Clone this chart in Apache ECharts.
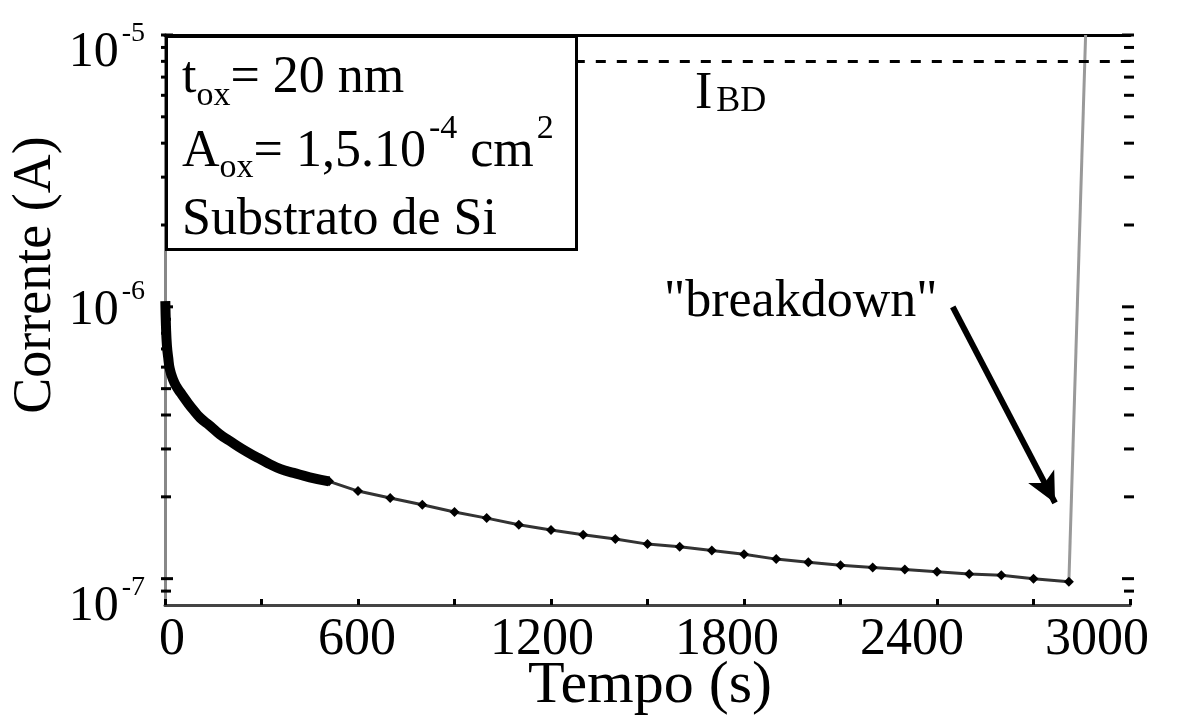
<!DOCTYPE html>
<html>
<head>
<meta charset="utf-8">
<script src="https://cdn.jsdelivr.net/npm/echarts@6/dist/echarts.min.js"></script>
<style>
html,body{margin:0;padding:0;background:#fff;}
#c{width:1181px;height:717px;}
</style>
</head>
<body>
<div id="c"></div>
<script>
// ---- data ----
var timeEarly    = [1, 3, 6, 10, 15, 25, 35, 50, 70, 90, 110, 140, 170, 200, 240, 280, 320, 360, 400, 450, 510];
var currentEarly = [1.05e-6, 8.5e-7, 7.2e-7, 6.5e-7, 5.9e-7, 5.4e-7, 5.1e-7, 4.8e-7, 4.45e-7, 4.15e-7, 3.9e-7, 3.65e-7, 3.4e-7, 3.22e-7, 3.0e-7, 2.82e-7, 2.66e-7, 2.53e-7, 2.45e-7, 2.36e-7, 2.28e-7];
var timeLate     = [510, 600, 700, 800, 900, 1000, 1100, 1200, 1300, 1400, 1500, 1600, 1700, 1800, 1900, 2000, 2100, 2200, 2300, 2400, 2500, 2600, 2700, 2810];
var currentLate  = [2.28e-7, 2.10e-7, 1.98e-7, 1.87e-7, 1.76e-7, 1.67e-7, 1.58e-7, 1.51e-7, 1.45e-7, 1.40e-7, 1.34e-7, 1.31e-7, 1.27e-7, 1.23e-7, 1.18e-7, 1.15e-7, 1.12e-7, 1.10e-7, 1.08e-7, 1.06e-7, 1.04e-7, 1.03e-7, 1.00e-7, 0.975e-7];
var timeBreak    = [2810, 2862];
var currentBreak = [0.975e-7, 1e-5];
var currentBD    = 8e-6;            // I_BD dashed level
var bdLineStartT = 1274;            // dashed line starts at box edge
var arrowFrom    = [2449, 1.0e-6];
var arrowTo      = [2767, 1.9e-7];
var xTicks       = [0, 600, 1200, 1800, 2400, 3000];
var yMin = 8e-8, yMax = 1e-5;
var yMajorTicks  = [1e-7, 1e-6, 1e-5];
var yMinorTicks  = [9e-8, 2e-7, 3e-7, 4e-7, 5e-7, 6e-7, 7e-7, 8e-7, 9e-7, 2e-6, 3e-6, 4e-6, 5e-6, 6e-6, 7e-6, 8e-6, 9e-6];

function zip(a, b){ return a.map(function(v,i){ return [v, b[i]]; }); }

var FONT = '"Liberation Serif", "Times New Roman", "DejaVu Serif", serif';
var chart = echarts.init(document.getElementById('c'), null, {renderer:'canvas'});

var tickData = yMajorTicks.map(function(v){ return [v, 1]; }).concat(yMinorTicks.map(function(v){ return [v, 0]; }));

// label nudges: the reference's printed labels sit slightly off their ticks
var xShift = {0: 7, 600: -1, 1200: -9, 1800: -17, 2400: -25, 3000: -33};
var yShift = {'-7': 24, '-6': 0, '-5': 14};

var xRich = {};
xTicks.forEach(function(v){
  var d = xShift[v] || 0;
  xRich['p' + v] = {fontFamily: FONT, fontSize: 52, color: '#000',
    padding: d >= 0 ? [0, 0, 0, 2*d] : [0, -2*d, 0, 0]};
});
var yRich = {
  b: {fontFamily: FONT, fontSize: 50, lineHeight: 58, verticalAlign: 'bottom', color: '#000'},
  s: {fontFamily: FONT, fontSize: 28, lineHeight: 28, verticalAlign: 'top', color: '#000', padding: [0, 0, 0, 3]}
};
['-7','-5'].forEach(function(e){
  yRich['g' + e.replace('-','m')] = {fontSize: 4, lineHeight: 2 * yShift[e], color: 'rgba(0,0,0,0)'};
});

var option = {
  backgroundColor: '#fff',
  animation: false,
  textStyle: {fontFamily: FONT},
  grid: {left: 165, right: 51, top: 35, bottom: 112, containLabel: false, outerBoundsMode: 'none'},
  xAxis: [{
    type: 'value', min: 0, max: 3000, interval: 600,
    axisLine: {show: true, onZero: false, lineStyle: {color: '#444', width: 3}},
    axisTick: {show: true, inside: true, length: 6, lineStyle: {color: '#000', width: 3}},
    minorTick: {show: true, splitNumber: 2, length: 6, lineStyle: {color: '#000', width: 3}},
    splitLine: {show: false},
    axisLabel: {margin: 9, color: '#000', rich: xRich,
      formatter: function(v){ return xTicks.indexOf(v) >= 0 ? '{p' + v + '|' + v + '}' : ''; }}
  }, {
    type: 'value', min: 0, max: 3000, interval: 600, position: 'top',
    axisLine: {show: true, onZero: false, lineStyle: {color: '#000', width: 3}},
    axisTick: {show: false}, axisLabel: {show: false}, splitLine: {show: false}
  }],
  yAxis: [{
    type: 'log', logBase: 10, min: yMin, max: yMax,
    axisLine: {show: true, lineStyle: {color: '#1a1a1a', width: 3}},
    axisTick: {show: false}, minorTick: {show: false}, splitLine: {show: false},
    axisLabel: {
      margin: 20, color: '#000', rich: yRich,
      formatter: function(v){
        var e = Math.log10(v);
        if (Math.abs(e - Math.round(e)) > 1e-6) return '';
        var key = String(Math.round(e));
        var main = '{b|10}{s|' + key + '}';
        if (yShift[key]) return '{g' + key.replace('-','m') + '| }\n' + main;
        return main;
      }
    }
  }, {
    type: 'log', logBase: 10, min: yMin, max: yMax, position: 'right',
    axisLine: {show: true, lineStyle: {color: '#888', width: 3}},
    axisTick: {show: false}, axisLabel: {show: false}, splitLine: {show: false}
  }],
  series: [
    {
      type: 'custom', name: 'yticks', coordinateSystem: 'cartesian2d', silent: true, z: 5,
      data: tickData,
      renderItem: function(params, api){
        var v = api.value(0), major = api.value(1);
        var pL = api.coord([0, v]);
        var pR = api.coord([3000, v]);
        var len = major ? 8 : 6;
        var st = {stroke: '#000', lineWidth: 3};
        return {type: 'group', children: [
          {type: 'line', shape: {x1: pL[0]-4, y1: pL[1], x2: pL[0]+len, y2: pL[1]}, style: st},
          {type: 'line', shape: {x1: pR[0]-len, y1: pR[1], x2: pR[0]+4, y2: pR[1]}, style: st}
        ]};
      },
      encode: {x: null, y: 0}
    },
    {
      type: 'line', name: 'early', data: zip(timeEarly, currentEarly),
      showSymbol: false, smooth: true, lineStyle: {color: '#000', width: 10}, z: 3
    },
    {
      type: 'line', name: 'late', data: zip(timeLate, currentLate),
      symbol: 'diamond', symbolSize: 10, showSymbol: true,
      itemStyle: {color: '#000'}, lineStyle: {color: '#333', width: 3}, z: 3,
      markLine: {
        silent: true, symbol: ['none', 'none'],
        lineStyle: {color: '#000', width: 3, type: [10, 11]},
        label: {show: false},
        data: [[{coord: [bdLineStartT, currentBD]}, {coord: [3000, currentBD]}]]
      }
    },
    {
      type: 'line', name: 'breakdown', data: zip(timeBreak, currentBreak),
      showSymbol: false, lineStyle: {color: '#999', width: 3}, z: 2,
      markLine: {
        silent: true, symbol: ['none', 'arrow'], symbolSize: [22, 30],
        lineStyle: {color: '#000', width: 6, type: 'solid'},
        label: {show: false},
        data: [[{coord: arrowFrom}, {coord: arrowTo}]]
      }
    }
  ],
  graphic: [
    {type: 'rect', left: 165, top: 35, z: 100,
      shape: {width: 410, height: 213},
      style: {fill: '#fff', stroke: '#000', lineWidth: 3}},
    {type: 'text', left: 182, top: 52, z: 101,
      style: {text: '{b|t}{sub|ox}{b|= 20 nm}', rich: {
        b: {fontFamily: FONT, fontSize: 52, lineHeight: 70, verticalAlign: 'middle', fill: '#000'},
        sub: {fontFamily: FONT, fontSize: 34, lineHeight: 34, verticalAlign: 'bottom', fill: '#000'}
      }}},
    {type: 'text', left: 182, top: 112, z: 101,
      style: {text: '{b|A}{sub|ox}{b|= 1,5.10}{sup|-4}{b| cm}{sup|2}', rich: {
        b: {fontFamily: FONT, fontSize: 52, lineHeight: 80, verticalAlign: 'middle', fill: '#000'},
        sub: {fontFamily: FONT, fontSize: 34, lineHeight: 34, verticalAlign: 'bottom', fill: '#000', padding: [0, 0, 7, 0]},
        sup: {fontFamily: FONT, fontSize: 34, lineHeight: 34, verticalAlign: 'top', fill: '#000', padding: [0, 0, 0, 3]}
      }}},
    {type: 'text', left: 182, top: 194, z: 101,
      style: {text: 'Substrato de Si', font: '52px ' + FONT, fill: '#000'}},
    {type: 'text', left: 695, top: 68, z: 101,
      style: {text: '{b|I}{sub|BD}', rich: {
        b: {fontFamily: FONT, fontSize: 52, lineHeight: 52, verticalAlign: 'top', fill: '#000'},
        sub: {fontFamily: FONT, fontSize: 36, lineHeight: 36, verticalAlign: 'bottom', fill: '#000', padding: [0, 0, 0, 4]}
      }}},
    {type: 'text', left: 664, top: 276, z: 101,
      style: {text: '"breakdown"', font: '52px ' + FONT, fill: '#000'}},
    {type: 'text', x: 36, y: 275, rotation: Math.PI / 2, z: 101,
      style: {text: 'Corrente (A)', font: '54px ' + FONT, fill: '#000', align: 'center', verticalAlign: 'middle'}},
    {type: 'text', x: 650, y: 686, z: 101,
      style: {text: 'Tempo (s)', font: '60px ' + FONT, fill: '#000', align: 'center', verticalAlign: 'middle'}}
  ]
};
chart.setOption(option);
</script>
</body>
</html>
